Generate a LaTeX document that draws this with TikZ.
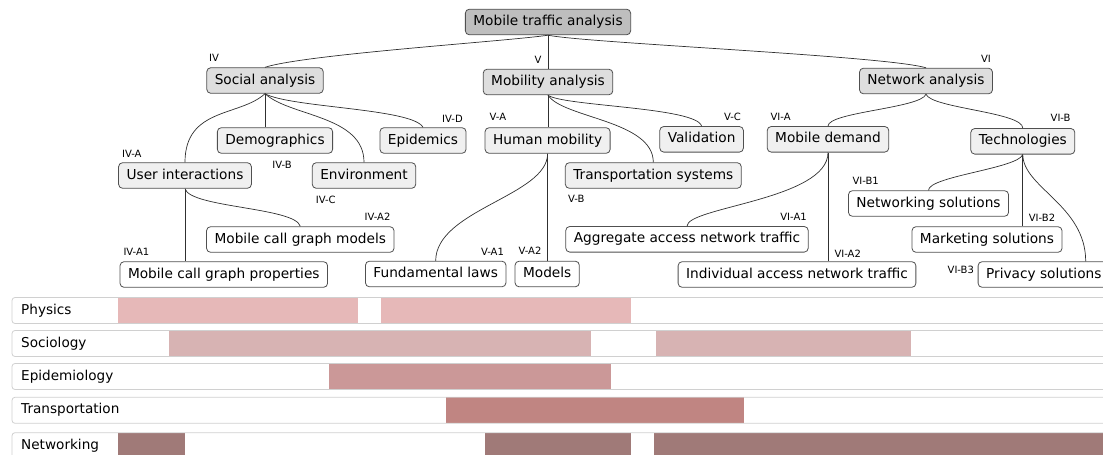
\documentclass[tikz,border=0pt]{standalone}
\usepackage{fontspec}
\setmainfont{DejaVu Sans}
\usetikzlibrary{calc}
\definecolor{rootfill}{HTML}{BEBEBE}
\definecolor{lvlafill}{HTML}{DEDEDE}
\definecolor{lvlbfill}{HTML}{F0F0F0}
\definecolor{boxline}{HTML}{505050}
\definecolor{edgecol}{HTML}{303030}
\definecolor{rowline}{HTML}{D0D0D0}
\definecolor{cphys}{HTML}{E6B8B8}
\definecolor{csoc}{HTML}{D7B3B3}
\definecolor{cepi}{HTML}{CB9898}
\definecolor{ctrans}{HTML}{C08582}
\definecolor{cnet}{HTML}{A07A78}
\begin{document}
\begin{tikzpicture}[x=1pt,y=-1pt,
 box/.style={draw=boxline, line width=0.8pt, rounded corners=4pt, minimum height=25.6pt,
   inner xsep=8pt, inner ysep=0pt, text height=10.2pt, text depth=3.2pt,
   font=\fontsize{13.7}{16}\selectfont},
 rootbox/.style={box, fill=rootfill},
 topicbox/.style={box, fill=lvlafill},
 subbox/.style={box, fill=lvlbfill},
 leafbox/.style={box, fill=white},
 tag/.style={inner sep=0pt, font=\fontsize{10}{12}\selectfont},
 link/.style={draw=edgecol, line width=0.7pt},
 rowframe/.style={draw=rowline, line width=0.8pt, rounded corners=3pt},
 rowlab/.style={anchor=west, inner sep=0pt, text height=10pt, text depth=3pt,
   font=\fontsize{13.6}{16}\selectfont}]
\useasboundingbox (0,0) rectangle (1103,455);
\clip (0,0) rectangle (1103,455);

% ---------- nodes ----------
\node[rootbox] (root) at (548,22) {Mobile traffic analysis};
\node[topicbox] (soc) at (265,80.5) {Social analysis};
\node[topicbox] (mob) at (548,82) {Mobility analysis};
\node[topicbox] (net) at (926,81) {Network analysis};

\node[subbox] (demo) at (275,140.5) {Demographics};
\node[subbox] (epi) at (423,140.5) {Epidemics};
\node[subbox] (ui) at (185,175.5) {User interactions};
\node[subbox] (env) at (364,175.5) {Environment};
\node[subbox] (hm) at (547.6,140.5) {Human mobility};
\node[subbox] (val) at (701.6,139.3) {Validation};
\node[subbox] (ts) at (653.3,175.5) {Transportation systems};
\node[subbox] (md) at (828,139.3) {Mobile demand};
\node[subbox] (tech) at (1022.8,141.3) {Technologies};

\node[leafbox] (mcgm) at (300.3,239.5) {Mobile call graph models};
\node[leafbox] (mcgp) at (223.8,274.5) {Mobile call graph properties};
\node[leafbox] (fl) at (435.7,274) {Fundamental laws};
\node[leafbox] (models) at (547.2,274) {Models};
\node[leafbox] (agg) at (687,239.3) {Aggregate access network traffic};
\node[leafbox] (ind) at (797,274.5) {Individual access network traffic};
\node[leafbox] (ns) at (928.5,203.5) {Networking solutions};
\node[leafbox] (mkt) at (987,239.5) {Marketing solutions};
\node[leafbox, anchor=west] (priv) at (977.7,274.5) {Privacy solutions};

% ---------- tags ----------
\node[tag] (tIV) at (214,58.3) {IV};
\node[tag] (tV) at (538,60) {V};
\node[tag] (tVI) at (986,59.3) {VI};
\node[tag] (tIVD) at (452.5,119) {IV-D};
\node[tag] (tIVA) at (131.8,154) {IV-A};
\node[tag] (tIVB) at (282,165) {IV-B};
\node[tag] (tIVC) at (325.7,200) {IV-C};
\node[tag] (tIVA2) at (377.5,217) {IV-A2};
\node[tag] (tIVA1) at (136.4,252.3) {IV-A1};
\node[tag] (tVA) at (497.9,117.3) {V-A};
\node[tag] (tVA1) at (492.5,252) {V-A1};
\node[tag] (tVA2) at (530,250.7) {V-A2};
\node[tag] (tVC) at (732.5,116.7) {V-C};
\node[tag] (tVB) at (576.3,199.3) {V-B};
\node[tag] (tVIA) at (780.6,116.7) {VI-A};
\node[tag] (tVIB) at (1060.6,118.3) {VI-B};
\node[tag] (tVIB1) at (865.7,180.7) {VI-B1};
\node[tag] (tVIA1) at (793.5,217) {VI-A1};
\node[tag] (tVIB2) at (1042,217.3) {VI-B2};
\node[tag] (tVIA2) at (847.7,253.3) {VI-A2};
\node[tag] (tVIB3) at (960.8,270) {VI-B3};

% ---------- connectors ----------
\draw[link] (root.south) .. controls +(-40,6) and +(40,-13) .. (soc.north);
\draw[link] (root.south) -- (mob.north);
\draw[link] (root.south) .. controls +(40,8) and +(-40,-12) .. (net.north);

\draw[link] (soc.south) .. controls +(-25,23) and +(0,-55) .. (ui.north);
\draw[link] (soc.south) -- (soc.south |- demo.north);
\draw[link] (soc.south) .. controls +(25,23) and +(0,-47) .. (env.north);
\draw[link] (soc.south) .. controls +(25,14) and +(-10,-19) .. (epi.north);

\draw[link] (ui.south) -- (ui.south |- mcgp.north);
\draw[link] (ui.south) .. controls +(5,19) and +(-5,-19) .. (mcgm.north);

\draw[link] (mob.south) -- (mob.south |- hm.north);
\draw[link] (mob.south) .. controls +(15,11) and +(-5,-19) .. (val.north);
\draw[link] (mob.south) .. controls +(15,23) and +(0,-42) .. (ts.north);

\draw[link] (hm.south) .. controls +(0,42) and +(0,-51) .. (fl.north);
\draw[link] (hm.south) -- (hm.south |- models.north);

\draw[link] (net.south) .. controls +(-5,14) and +(0,-14) .. (md.north);
\draw[link] (net.south) .. controls +(5,14) and +(0,-16) .. (tech.north);

\draw[link] (md.south) .. controls +(0,47) and +(0,-19) .. (agg.north);
\draw[link] (md.south) -- (md.south |- ind.north);

\draw[link] (tech.south) .. controls +(-5,14) and +(0,-14) .. (ns.north);
\draw[link] (tech.south) -- (tech.south |- mkt.north);
\draw[link] (tech.south) .. controls +(0,33) and +(0,-56) .. ([xshift=108pt]priv.north west);

% ---------- discipline rows ----------
% Physics
\fill[cphys] (118,297.5) rectangle (358,323.5);
\fill[cphys] (381,297.5) rectangle (631,323.5);
\draw[rowframe] (12,297.5) rectangle (1115,323.5);
\node[rowlab] (lphys) at (21,310.5) {Physics};
% Sociology
\fill[csoc] (169,330.5) rectangle (591,356.5);
\fill[csoc] (655.5,330.5) rectangle (911,356.5);
\draw[rowframe] (12,330.5) rectangle (1115,356.5);
\node[rowlab] (lsoc) at (21,343.5) {Sociology};
% Epidemiology
\fill[cepi] (329,363.5) rectangle (611,389.5);
\draw[rowframe] (12,363.5) rectangle (1115,389.5);
\node[rowlab] (lepi) at (21,376.5) {Epidemiology};
% Transportation
\fill[ctrans] (446,397.3) rectangle (744,423.3);
\draw[rowframe] (12,397.3) rectangle (1115,423.3);
\node[rowlab] (ltrans) at (21,410.3) {Transportation};
% Networking
\fill[cnet] (118,432.7) rectangle (185,458.7);
\fill[cnet] (485,432.7) rectangle (631,458.7);
\fill[cnet] (653.5,432.7) rectangle (1115,458.7);
\draw[rowframe] (12,432.7) rectangle (1115,458.7);
\node[rowlab] (lnet) at (21,445.7) {Networking};
\end{tikzpicture}
\end{document}
